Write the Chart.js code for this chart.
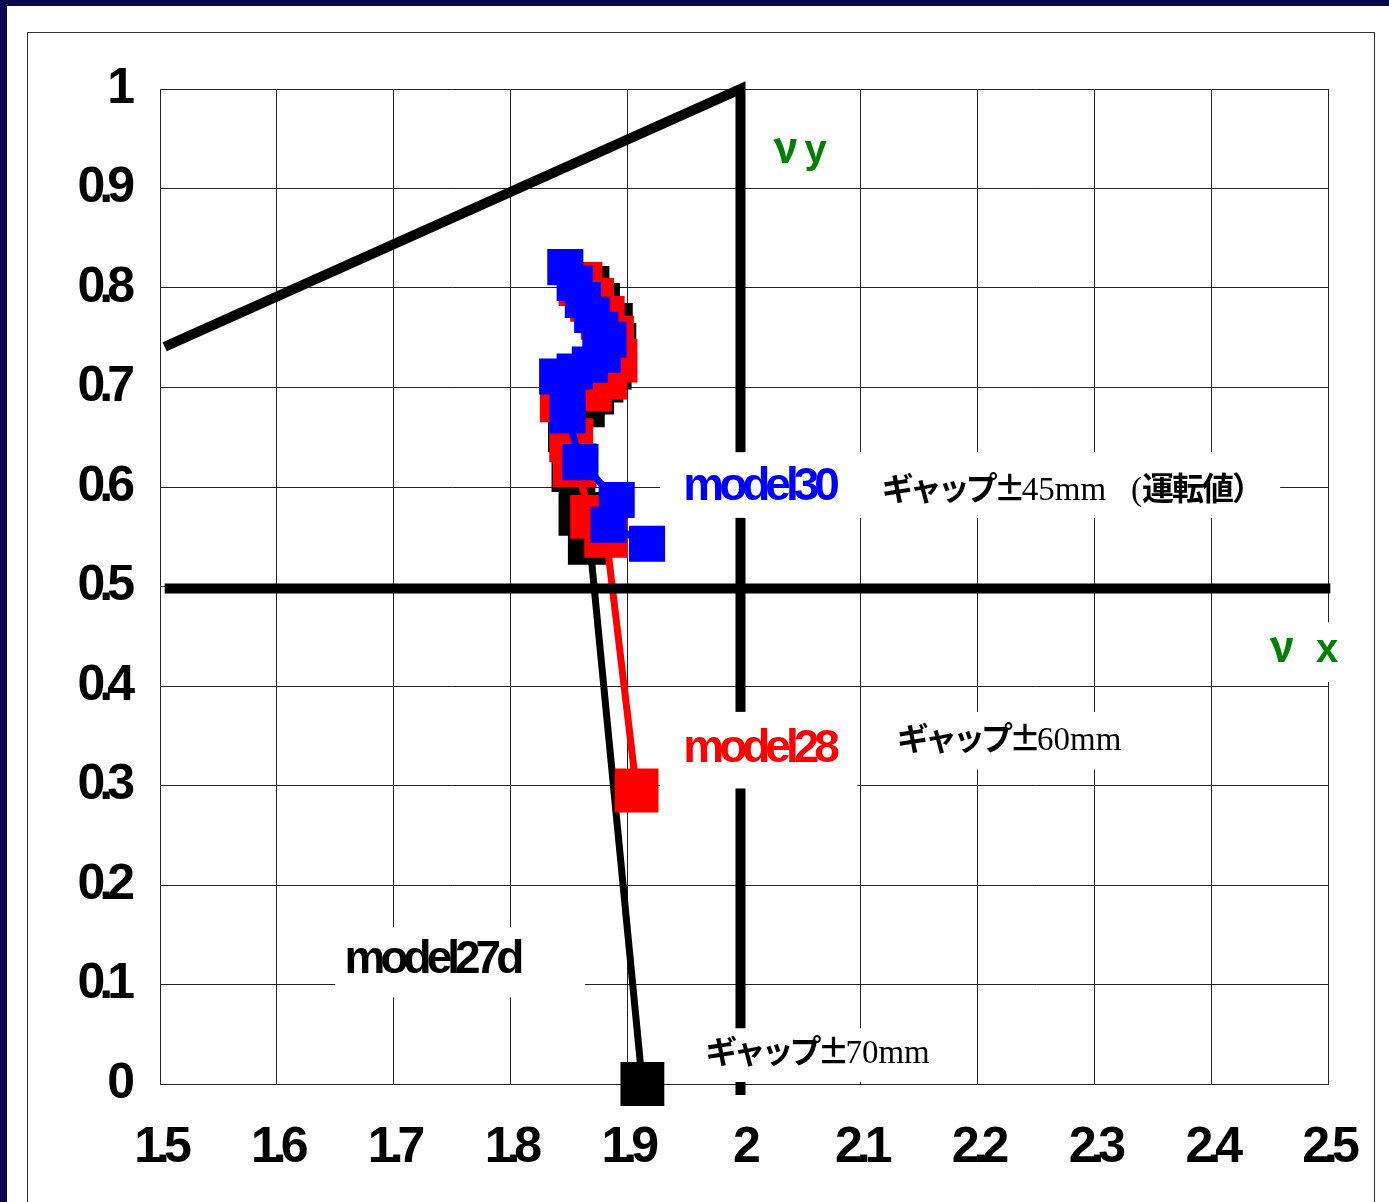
<!DOCTYPE html>
<html>
<head>
<meta charset="utf-8">
<script src="https://cdn.jsdelivr.net/npm/chart.js@4.4.0/dist/chart.umd.min.js"></script>
<style>
  html, body { margin: 0; padding: 0; }
  body { width: 1389px; height: 1202px; background: #0a0850; position: relative; overflow: hidden; }
  #sheet { position: absolute; left: 7px; top: 6px; right: 0; bottom: 0; background: #fff; }
  #frame { position: absolute; left: 27px; top: 32px; width: 1348px; height: 1200px; border: 1px solid #333; box-sizing: border-box; }
  #tune { position: absolute; left: 0; top: 0; }
</style>
</head>
<body>
<div id="sheet"></div>
<div id="frame"></div>
<canvas id="tune" width="1389" height="1202"></canvas>
<script>
document.addEventListener("DOMContentLoaded", () => {

  // TICK LABELS
  const xTickLabels = ["1.5","1.6","1.7","1.8","1.9","2","2.1","2.2","2.3","2.4","2.5"];
  const yTickLabels = ["0","0.1","0.2","0.3","0.4","0.5","0.6","0.7","0.8","0.9","1"];

  // model27d (black)
  const m27dX = [1.866,1.875,1.886,1.889,1.885,1.878,1.870,1.862,1.851,1.854,1.860,1.868,1.913];
  const m27dY = [0.800,0.783,0.763,0.743,0.720,0.707,0.695,0.682,0.657,0.617,0.573,0.544,0.000];

  // model28 (red)
  const m28X = [1.860,1.870,1.879,1.887,1.890,1.881,1.868,1.844,1.852,1.855,1.870,1.882,1.908];
  const m28Y = [0.804,0.788,0.770,0.750,0.727,0.710,0.698,0.687,0.647,0.622,0.570,0.551,0.295];

  // model30 (blue)
  const m30X = [1.847,1.855,1.862,1.870,1.877,1.884,1.879,1.868,1.855,1.840,1.849,1.849,1.860,1.891,1.884,1.917];
  const m30Y = [0.821,0.805,0.788,0.773,0.758,0.748,0.733,0.723,0.716,0.711,0.687,0.672,0.625,0.587,0.562,0.543];

  // resonance lines
  const diagX = [1.504, 1.997, 1.997];
  const diagY = [0.741, 1.000, -0.011];
  const halfX = [1.504, 2.502];
  const halfY = [0.498, 0.498];

  // white text boxes [x1, x2, yTop, yBottom]
  const labelBoxes = [
    [1.928, 2.459, 0.635, 0.569],
    [1.928, 2.097, 0.374, 0.297],
    [2.116, 2.324, 0.374, 0.316],
    [1.650, 1.864, 0.158, 0.087],
    [1.954, 2.178, 0.056, 0.002],
    [2.018, 2.082, 0.961, 0.919],
    [2.443, 2.512, 0.464, 0.404]
  ];

  const gothic = 'bold 32px "Noto Sans CJK JP"';
  const serif = '33px "Liberation Serif"';
  const modelFont = 'bold 46px "Liberation Sans"';
  const labelTexts = [
    {x:1.948, y:0.587, parts:[["model30",modelFont,"#0000ff","-5px"]]},
    {x:2.118, y:0.587, parts:[["ギャップ±",gothic,"#000","-4px"],["45mm",serif,"#000","0px"],["   (",serif,"#000","0px"],["運転値）",gothic,"#000","-2px"]]},
    {x:1.948, y:0.324, parts:[["model28",modelFont,"#ff0000","-5px"]]},
    {x:2.131, y:0.336, parts:[["ギャップ±",gothic,"#000","-4px"],["60mm",serif,"#000","0px"]]},
    {x:1.658, y:0.112, parts:[["model27d",modelFont,"#000","-5px"]]},
    {x:1.967, y:0.021, parts:[["ギャップ±",gothic,"#000","-4px"],["70mm",serif,"#000","0px"]]},
    {x:2.025, y:0.926, parts:[["ν",'bold 42px "Noto Sans CJK JP"',"#008000","0px"],[" y",'bold 40px "Liberation Sans"',"#008000","-4px"]]},
    {x:2.450, y:0.424, parts:[["ν",'bold 42px "Noto Sans CJK JP"',"#008000","0px"],["  x",'bold 40px "Liberation Sans"',"#008000","0px"]]}
  ];

  const pts = (xs, ys) => xs.map((x, i) => ({x: x, y: ys[i]}));

  const sheetText = {
    id: "sheetText",
    beforeDraw(chart) { chart.ctx.letterSpacing = "-6px"; },
    afterDatasetsDraw(chart) {
      const ctx = chart.ctx, sx = chart.scales.x, sy = chart.scales.y;
      ctx.save();
      ctx.fillStyle = "#fff";
      labelBoxes.forEach(b => {
        const x1 = sx.getPixelForValue(b[0]), x2 = sx.getPixelForValue(b[1]);
        const y1 = sy.getPixelForValue(b[2]), y2 = sy.getPixelForValue(b[3]);
        ctx.fillRect(x1, y1, x2 - x1, y2 - y1);
      });
      ctx.textAlign = "left";
      ctx.textBaseline = "alphabetic";
      labelTexts.forEach(l => {
        let x = sx.getPixelForValue(l.x);
        const y = sy.getPixelForValue(l.y);
        l.parts.forEach(p => {
          ctx.font = p[1];
          ctx.fillStyle = p[2];
          ctx.letterSpacing = p[3];
          ctx.fillText(p[0], x, y);
          x += ctx.measureText(p[0]).width;
        });
      });
      ctx.restore();
    }
  };

  const series = (label, xs, ys, color, r, order) => ({
    label: label,
    data: pts(xs, ys),
    showLine: true,
    borderColor: color,
    backgroundColor: color,
    borderWidth: 7,
    pointStyle: "rect",
    pointRadius: r,
    pointBorderWidth: 0,
    pointBackgroundColor: color,
    tension: 0,
    clip: false,
    order: order
  });

  const guide = (xs, ys) => ({
    data: pts(xs, ys),
    showLine: true,
    borderColor: "#000",
    borderWidth: 10,
    pointRadius: 0,
    borderCapStyle: "butt",
    borderJoinStyle: "miter",
    clip: false,
    order: 0
  });

  const tickFont = {family: "Liberation Sans", size: 50, weight: "bold"};

  new Chart(document.getElementById("tune"), {
    type: "scatter",
    data: {
      datasets: [
        series("model27d", m27dX, m27dY, "#000000", 31, 3),
        series("model28", m28X, m28Y, "#ff0000", 31, 2),
        series("model30", m30X, m30Y, "#0000ff", 25.5, 1),
        guide(diagX, diagY),
        guide(halfX, halfY)
      ]
    },
    options: {
      responsive: false,
      animation: false,
      events: [],
      layout: {padding: {left: 0, right: 61, top: 89, bottom: 0}},
      plugins: {legend: {display: false}, tooltip: {enabled: false}},
      scales: {
        x: {
          type: "linear", min: 1.5, max: 2.5,
          afterFit: s => { s.height = 118; s.paddingLeft = 0; s.paddingRight = 0; },
          grid: {color: "#222", lineWidth: 1, drawTicks: false},
          border: {color: "#222", width: 1},
          ticks: {stepSize: 0.1, padding: 34, color: "#000", font: tickFont, maxRotation: 0, autoSkip: false,
                  callback: (v, i) => xTickLabels[i]}
        },
        y: {
          type: "linear", min: 0, max: 1,
          afterFit: s => { s.width = 160; s.paddingTop = 0; s.paddingBottom = 0; },
          grid: {color: "#222", lineWidth: 1, drawTicks: false},
          border: {color: "#222", width: 1},
          ticks: {stepSize: 0.1, padding: 31, color: "#000", font: tickFont,
                  callback: (v, i) => yTickLabels[i]}
        }
      }
    },
    plugins: [sheetText]
  });
});
</script>
</body>
</html>
